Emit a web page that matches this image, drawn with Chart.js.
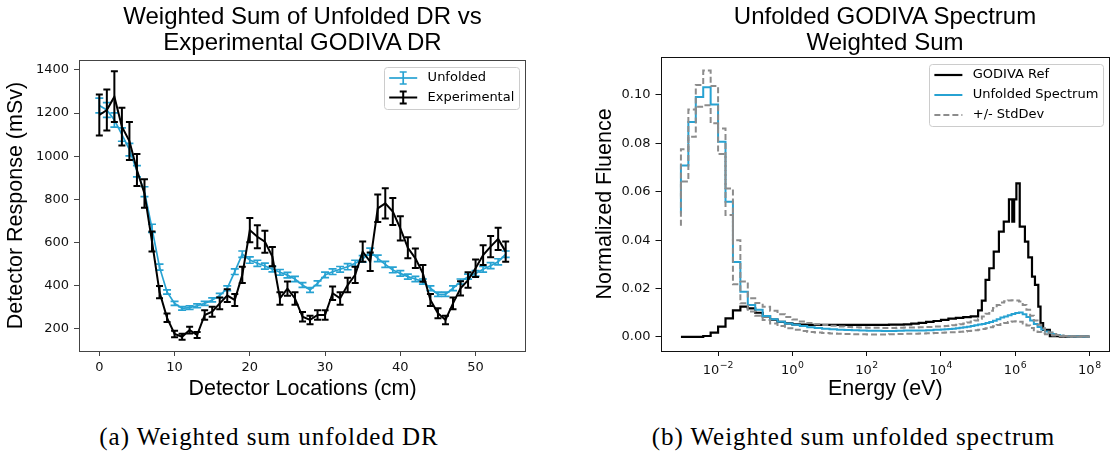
<!DOCTYPE html>
<html><head><meta charset="utf-8">
<script src="https://cdn.jsdelivr.net/npm/chart.js@4.4.0/dist/chart.umd.min.js"></script>
<style>
html,body{margin:0;padding:0;background:#fff;}
#page{position:relative;width:1110px;height:454px;overflow:hidden;background:#fff;}
.ttl{position:absolute;font-family:'Liberation Sans',Arial,sans-serif;font-size:24px;line-height:26px;text-align:center;color:#000;white-space:nowrap;width:400px;}
.cap{position:absolute;font-family:'Liberation Serif','Times New Roman',serif;font-size:25px;line-height:30px;letter-spacing:0.95px;text-align:center;white-space:nowrap;color:#000;width:460px;}
canvas{position:absolute;top:0;}
</style></head><body><div id="page">
<canvas id="c1" width="545" height="410" style="left:0px"></canvas>
<canvas id="c2" width="520" height="410" style="left:590px"></canvas>
<div class="ttl" style="left:102.5px;top:3px;">Weighted Sum of Unfolded DR vs<br>Experimental GODIVA DR</div>
<div class="ttl" style="left:685px;top:3px;">Unfolded GODIVA Spectrum<br>Weighted Sum</div>
<div class="cap" style="left:39px;top:422px;">(a) Weighted sum unfolded DR</div>
<div class="cap" style="left:623.5px;top:422px;">(b) Weighted sum unfolded spectrum</div>
</div>
<script>
// ---------------- Left chart data ----------------
const detectorLocations = [0,1,2,3,4,5,6,7,8,9,10,11,12,13,14,15,16,17,18,19,20,21,22,23,24,25,26,27,28,29,30,31,32,33,34,35,36,37,38,39,40,41,42,43,44,45,46,47,48,49,50,51,52,53,54];
const unfoldedDR = [1235,1214,1168,1100,1030,930,835,665,485,370,317,294,297,306,317,333,353,387,464,545,518,503,490,476,461,448,430,402,379,410,449,464,475,487,503,523,557,526,498,472,456,441,430,418,387,359,359,387,418,441,456,475,492,510,545];
const unfoldedErr = [34,34,33,31,29,26,23,19,14,10,9,8,8,9,9,9,10,11,13,15,15,14,14,13,13,13,12,11,11,11,13,13,13,14,14,15,16,15,14,13,13,12,12,12,11,10,10,11,12,12,13,13,14,14,15];
const experimentalDR = [1191,1214,1276,1137,1070,936,827,604,369,250,175,162,193,170,263,278,317,353,333,449,657,626,603,534,340,385,340,255,240,263,263,364,340,402,449,557,510,758,781,743,665,575,526,456,333,271,240,317,387,425,480,541,580,616,557];
const experimentalErr = [95,95,118,88,88,74,66,46,28,20,15,14,16,14,22,23,27,30,28,38,56,53,51,45,29,33,29,22,20,22,22,31,29,34,38,47,43,64,70,63,56,49,45,39,28,23,20,27,33,36,41,46,49,52,47];
const leftXTicks = [0,10,20,30,40,50];
const leftYTicks = [200,400,600,800,1000,1200,1400];

// ---------------- Right chart data ----------------
const unfoldedLogE = [-3.0,-2.8,-2.6,-2.4,-2.2,-2.0,-1.8,-1.6,-1.4,-1.2,-1.0,-0.8,-0.6,-0.4,-0.2,0.0,0.2,0.4,0.6,0.8,1.0,1.2,1.4,1.6,1.8,2.0,2.2,2.4,2.6,2.8,3.0,3.2,3.4,3.6,3.8,4.0,4.1,4.2,4.3,4.4,4.5,4.6,4.7,4.8,4.9,5.0,5.1,5.2,5.3,5.4,5.5,5.6,5.7,5.8,5.9,6.0,6.1,6.2,6.3,6.4,6.5,6.6,6.7,6.8,6.9,7.0,7.1,7.2,7.3,7.4,7.5,7.6,7.7,7.8,7.9,8.0];
const unfoldedSpectrum = [0.051,0.0709,0.0888,0.0992,0.1032,0.0961,0.0807,0.0559,0.031,0.0187,0.0132,0.0112,0.0087,0.0073,0.0063,0.0056,0.0050,0.0045,0.0040,0.0037,0.0034,0.0032,0.0030,0.0029,0.0028,0.0027,0.0026,0.0026,0.0025,0.0025,0.0026,0.0027,0.0027,0.0027,0.0028,0.0030,0.0031,0.0032,0.0033,0.0034,0.0036,0.0038,0.0040,0.0042,0.0045,0.0048,0.0051,0.0054,0.0058,0.0062,0.0067,0.0073,0.0080,0.0085,0.0090,0.0095,0.0099,0.0101,0.0094,0.0082,0.0068,0.0054,0.0041,0.0031,0.0023,0.0017,0.0012,0.0008,0.0005,0.0004,0.0003,0.0002,0.0002,0.0001,0.0001,0.0001];
const stdDevUpper = [0.058,0.0776,0.0940,0.1041,0.1101,0.1037,0.0862,0.0614,0.040,0.0229,0.0160,0.0140,0.0125,0.0108,0.0094,0.0082,0.0072,0.0064,0.0058,0.0053,0.0049,0.0046,0.0043,0.0041,0.0040,0.0039,0.0038,0.0038,0.0037,0.0037,0.0038,0.0039,0.0039,0.0040,0.0041,0.0043,0.0044,0.0045,0.0046,0.0048,0.0050,0.0053,0.0056,0.0060,0.0064,0.0068,0.0075,0.0085,0.0096,0.0108,0.0120,0.0132,0.0142,0.0148,0.0151,0.0152,0.0151,0.0147,0.0132,0.0112,0.0088,0.0068,0.0050,0.0036,0.0026,0.0018,0.0012,0.0008,0.0006,0.0004,0.0003,0.0003,0.0002,0.0002,0.0002,0.0002];
const stdDevLower = [0.046,0.0642,0.0827,0.0951,0.0958,0.0883,0.0756,0.0504,0.0218,0.0139,0.0105,0.0088,0.0070,0.0056,0.0045,0.0036,0.0030,0.0025,0.0021,0.0018,0.0016,0.0014,0.0013,0.0012,0.0011,0.0011,0.0010,0.0010,0.0010,0.0011,0.0012,0.0013,0.0013,0.0014,0.0015,0.0016,0.0017,0.0018,0.0019,0.0020,0.0021,0.0022,0.0023,0.0025,0.0026,0.0028,0.0030,0.0033,0.0036,0.0040,0.0044,0.0049,0.0054,0.0058,0.0062,0.0064,0.0065,0.0063,0.0056,0.0047,0.0037,0.0028,0.0021,0.0015,0.0011,0.0008,0.0006,0.0004,0.0003,0.0002,0.0002,0.0001,0.0001,0.0001,0.0001,0.0001];
const godivaLogE = [-3.0,-2.8,-2.6,-2.4,-2.2,-2.0,-1.8,-1.6,-1.4,-1.2,-1.0,-0.8,-0.6,-0.4,-0.2,0.0,0.2,0.4,0.6,0.8,1.0,1.2,1.4,1.6,1.8,2.0,2.2,2.4,2.6,2.8,3.0,3.2,3.4,3.6,3.8,4.0,4.2,4.4,4.6,4.8,5.0,5.1,5.2,5.3,5.42,5.56,5.69,5.83,5.92,5.97,6.03,6.12,6.26,6.35,6.45,6.53,6.62,6.68,6.75,6.93,7.2,7.6,8.0];
const godivaRef = [0,0,0,0,0.0004,0.0018,0.0043,0.0077,0.0110,0.0125,0.0118,0.0100,0.0085,0.0072,0.0062,0.0056,0.0052,0.0051,0.0050,0.0050,0.0050,0.0050,0.0050,0.0050,0.0050,0.0050,0.0050,0.0050,0.0050,0.0051,0.0051,0.0052,0.0055,0.0058,0.0062,0.0066,0.0071,0.0076,0.0079,0.0082,0.0085,0.0110,0.0150,0.0236,0.0284,0.0353,0.0435,0.0477,0.0569,0.0477,0.0569,0.0635,0.0456,0.0394,0.0329,0.0249,0.0215,0.0125,0.0057,0.0029,0.0003,0.0001,0.0001];
const rightXTickExponents = [-2,0,2,4,6,8];
const rightYTicks = [0,0.02,0.04,0.06,0.08,0.10];

// ---------------- styling ----------------
const BLUE = '#27a2d2';
const GRAY = '#8c8c8c';
Chart.defaults.font.family = "'DejaVu Sans', sans-serif";
Chart.defaults.color = '#000';

const errorBarPlugin = {
  id: 'errorBars',
  afterDatasetDraw(chart, args) {
    const ds = chart.data.datasets[args.index];
    if (!ds.errors) return;
    const xs = chart.scales.x, ys = chart.scales.y, ctx = chart.ctx, ca = chart.chartArea;
    ctx.save();
    ctx.beginPath(); ctx.rect(ca.left, ca.top, ca.right - ca.left, ca.bottom - ca.top); ctx.clip();
    ctx.strokeStyle = ds.borderColor; ctx.lineWidth = ds.borderWidth;
    const cap = ds.capHalf || 3.5;
    ds.data.forEach((p, i) => {
      const px = xs.getPixelForValue(p.x);
      const y1 = ys.getPixelForValue(p.y - ds.errors[i]);
      const y2 = ys.getPixelForValue(p.y + ds.errors[i]);
      ctx.beginPath();
      ctx.moveTo(px, y1); ctx.lineTo(px, y2);
      ctx.moveTo(px - cap, y1); ctx.lineTo(px + cap, y1);
      ctx.moveTo(px - cap, y2); ctx.lineTo(px + cap, y2);
      ctx.stroke();
    });
    ctx.restore();
  }
};

const framePlugin = {
  id: 'frame',
  afterDraw(chart, args, opts) {
    const {ctx, chartArea: a} = chart;
    ctx.save();
    ctx.strokeStyle = opts.color || '#000';
    ctx.lineWidth = 1;
    const l = Math.round(a.left) + 0.5, t = Math.round(a.top) + 0.5;
    const r = Math.min(Math.round(a.right) - 0.5, chart.width - 0.5), b = Math.round(a.bottom) + 0.5;
    ctx.strokeRect(l, t, r - l, b - t);
    ctx.restore();
  }
};

const legendPlugin = {
  id: 'mplLegend',
  afterDraw(chart, args, opts) {
    if (!opts.items) return;
    const {ctx, chartArea: a} = chart;
    ctx.save();
    ctx.font = "13px 'DejaVu Sans'";
    const textW = Math.max(...opts.items.map(it => ctx.measureText(it.label).width));
    const pad = 5.2, hl = 28, hp = 10.4, rowH = opts.rowH;
    const right = a.right - 6.5, top = a.top + opts.topGap;
    const w = pad + hl + hp + textW + pad;
    const h = 22 + (opts.items.length - 1) * rowH;
    const left = right - w;
    ctx.beginPath();
    ctx.roundRect(Math.round(left) + 0.5, Math.round(top) + 0.5, Math.round(w), Math.round(h), 3);
    ctx.fillStyle = 'rgba(255,255,255,0.8)'; ctx.fill();
    ctx.strokeStyle = '#cccccc'; ctx.lineWidth = 1; ctx.stroke();
    opts.items.forEach((it, k) => {
      const cy = top + 11 + k * rowH;
      ctx.strokeStyle = it.color; ctx.lineWidth = it.width;
      ctx.setLineDash(it.dash || []);
      ctx.beginPath(); ctx.moveTo(left + pad, cy); ctx.lineTo(left + pad + hl, cy); ctx.stroke();
      ctx.setLineDash([]);
      if (it.errorbar) {
        const mx = left + pad + hl / 2;
        ctx.beginPath();
        ctx.moveTo(mx, cy - 6); ctx.lineTo(mx, cy + 6);
        ctx.moveTo(mx - 3.5, cy - 6); ctx.lineTo(mx + 3.5, cy - 6);
        ctx.moveTo(mx - 3.5, cy + 6); ctx.lineTo(mx + 3.5, cy + 6);
        ctx.stroke();
      }
      ctx.fillStyle = '#000'; ctx.textBaseline = 'middle'; ctx.textAlign = 'left';
      ctx.fillText(it.label, left + pad + hl + hp, cy);
    });
    ctx.restore();
  }
};

// power-of-ten tick labels with a raised, smaller exponent (like mathtext)
const powTickPlugin = {
  id: 'powTicks',
  afterDraw(chart, args, opts) {
    if (!opts.exponents) return;
    const {ctx, chartArea: a} = chart;
    const xs = chart.scales.x;
    ctx.save();
    ctx.fillStyle = '#111';
    ctx.textBaseline = 'alphabetic';
    ctx.textAlign = 'left';
    const base = a.bottom + 22.5;
    opts.exponents.forEach(p => {
      const px = xs.getPixelForValue(Math.pow(10, p));
      const expText = String(p).replace('-', '\u2212');
      ctx.font = "13px 'DejaVu Sans'";
      const w1 = ctx.measureText('10').width;
      ctx.font = "9.3px 'DejaVu Sans'";
      const w2 = ctx.measureText(expText).width;
      const x0 = px - (w1 + w2 + 0.5) / 2;
      ctx.font = "13px 'DejaVu Sans'";
      ctx.fillText('10', x0, base);
      ctx.font = "9.3px 'DejaVu Sans'";
      ctx.fillText(expText, x0 + w1 + 0.5, base - 6);
    });
    ctx.restore();
  }
};

const tickFont = {family: "'DejaVu Sans'", size: 13};
const labelFont = {family: "'Liberation Sans', Arial, sans-serif", size: 21.5};
function gridOpts(c) { return {display: true, drawOnChartArea: false, drawTicks: true, tickLength: 5, color: c, tickColor: c, lineWidth: 1}; }

// ---------------- Left chart ----------------
new Chart(document.getElementById('c1'), {
  type: 'line',
  data: {
    datasets: [
      {label: 'Experimental', data: detectorLocations.map((x, i) => ({x: x, y: experimentalDR[i]})), errors: experimentalErr,
       borderColor: '#000', borderWidth: 2, pointRadius: 0, tension: 0, order: 0, capHalf: 3.5},
      {label: 'Unfolded', data: detectorLocations.map((x, i) => ({x: x, y: unfoldedDR[i]})), errors: unfoldedErr,
       borderColor: BLUE, borderWidth: 1.7, pointRadius: 0, tension: 0, order: 1, capHalf: 4}
    ]
  },
  options: {
    responsive: false, animation: false, devicePixelRatio: 1,
    layout: {padding: {top: 60, right: 19, bottom: 0, left: 0}},
    plugins: {
      legend: {display: false}, tooltip: {enabled: false},
      frame: {color: '#444'},
      mplLegend: {topGap: 7, rowH: 19.5, items: [
        {label: 'Unfolded', color: BLUE, width: 1.7, errorbar: true},
        {label: 'Experimental', color: '#000', width: 2, errorbar: true}
      ]}
    },
    scales: {
      x: {type: 'linear', min: -2.7, max: 56.7,
          afterBuildTicks: s => { s.ticks = leftXTicks.map(v => ({value: v})); },
          afterFit: s => { s.height = 59; },
          ticks: {font: tickFont, color: '#111', padding: 4, maxRotation: 0, callback: v => String(v)},
          grid: gridOpts('#444'), border: {display: false},
          title: {display: true, text: 'Detector Locations (cm)', font: labelFont, color: '#000', padding: {top: 0, bottom: 8}}},
      y: {type: 'linear', min: 96, max: 1446,
          afterBuildTicks: s => { s.ticks = leftYTicks.map(v => ({value: v})); },
          afterFit: s => { s.width = 79; },
          ticks: {font: tickFont, color: '#111', padding: 5, callback: v => String(v)},
          grid: gridOpts('#444'), border: {display: false},
          title: {display: true, text: 'Detector Response (mSv)', font: labelFont, color: '#000', padding: {top: 3, bottom: 0}}}
    }
  },
  plugins: [errorBarPlugin, framePlugin, legendPlugin]
});

// ---------------- Right chart ----------------
function stepData(logE, vals) { return logE.map((e, i) => ({x: Math.pow(10, e), y: vals[i]})); }

new Chart(document.getElementById('c2'), {
  type: 'line',
  data: {
    datasets: [
      {label: '+/- StdDev', data: stepData(unfoldedLogE, stdDevUpper), borderColor: GRAY, borderWidth: 2, borderDash: [6, 3], stepped: 'after', pointRadius: 0, order: 0},
      {label: '+/- StdDev (lower)', data: stepData(unfoldedLogE, stdDevLower), borderColor: GRAY, borderWidth: 2, borderDash: [6, 3], stepped: 'after', pointRadius: 0, order: 0},
      {label: 'Unfolded Spectrum', data: stepData(unfoldedLogE, unfoldedSpectrum), borderColor: BLUE, borderWidth: 2, stepped: 'after', pointRadius: 0, order: 1},
      {label: 'GODIVA Ref', data: stepData(godivaLogE, godivaRef), borderColor: '#000', borderWidth: 2.2, stepped: 'after', pointRadius: 0, order: 2}
    ]
  },
  options: {
    responsive: false, animation: false, devicePixelRatio: 1,
    layout: {padding: {top: 57, right: 0, bottom: 0, left: 0}},
    plugins: {
      legend: {display: false}, tooltip: {enabled: false},
      frame: {color: '#111'},
      powTicks: {exponents: rightXTickExponents},
      mplLegend: {topGap: 7, rowH: 20, items: [
        {label: 'GODIVA Ref', color: '#000', width: 2.2},
        {label: 'Unfolded Spectrum', color: BLUE, width: 2},
        {label: '+/- StdDev', color: GRAY, width: 2, dash: [6, 3]}
      ]}
    },
    scales: {
      x: {type: 'logarithmic', min: Math.pow(10, -3.55), max: Math.pow(10, 8.55),
          afterBuildTicks: s => { s.ticks = rightXTickExponents.map(p => ({value: Math.pow(10, p)})); },
          afterFit: s => { s.height = 59; },
          ticks: {display: false},
          grid: gridOpts('#111'), border: {display: false},
          title: {display: true, text: 'Energy (eV)', font: labelFont, color: '#000', padding: {top: 0, bottom: 8}}},
      y: {type: 'linear', min: -0.0058, max: 0.1157,
          afterBuildTicks: s => { s.ticks = rightYTicks.map(v => ({value: v})); },
          afterFit: s => { s.width = 70.5; },
          ticks: {font: tickFont, color: '#111', padding: 5, callback: v => Number(v).toFixed(2)},
          grid: gridOpts('#111'), border: {display: false},
          title: {display: true, text: 'Normalized Fluence', font: labelFont, color: '#000', padding: {top: 2, bottom: 0}}}
    }
  },
  plugins: [framePlugin, legendPlugin, powTickPlugin]
});
</script>
</body></html>
